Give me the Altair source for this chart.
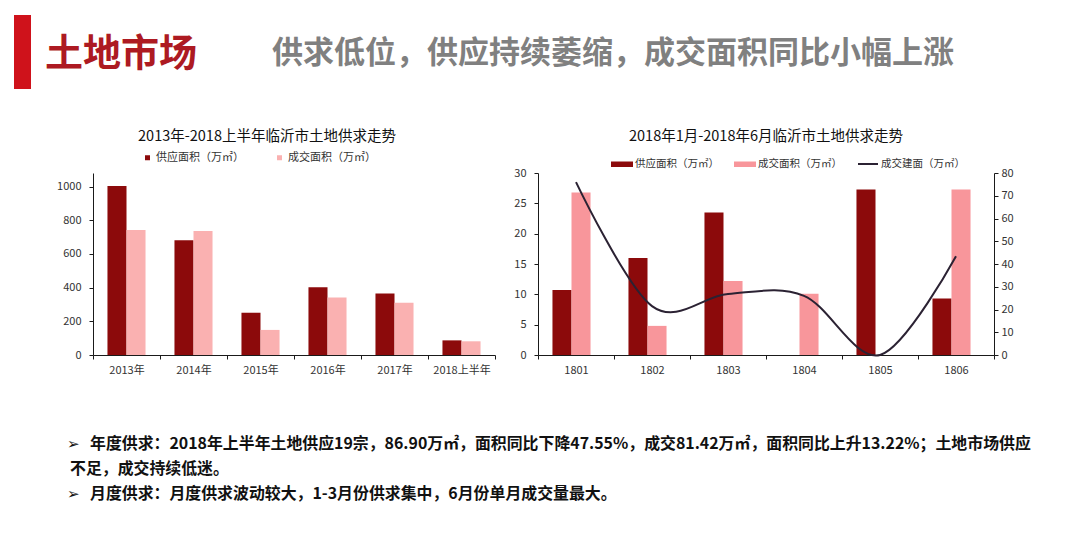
import altair as alt
import pandas as pd

FONT = "Noto Sans CJK SC"
DARK = "#8C0A0B"
LIGHT_L = "#FAB1B1"
LIGHT_R = "#F8969B"
LINE = "#2B2233"
RED = "#CF121B"
AXIS_C = "#1a1a1a"

# ---------------- data ----------------
years = ["2013年", "2014年", "2015年", "2016年", "2017年", "2018上半年"]
supply_year = [1004, 681, 251, 402, 366, 86.90]
deal_year = [743, 737, 149, 341, 311, 81.42]
series_left = ["供应面积（万㎡）", "成交面积（万㎡）"]

months = ["1801", "1802", "1803", "1804", "1805", "1806"]
supply_month = [10.7, 16.0, 23.5, 0, 27.3, 9.3]
deal_month = [26.8, 4.8, 12.2, 10.1, 0, 27.3]
build_month = [76, 21.5, 26.8, 26, 0, 43.4]
series_right = ["供应面积（万㎡）", "成交面积（万㎡）"]
line_name = "成交建面（万㎡）"

left_ticks = [0, 200, 400, 600, 800, 1000]
right_ticks_l = [0, 5, 10, 15, 20, 25, 30]
right_ticks_r = [0, 10, 20, 30, 40, 50, 60, 70, 80]

header_title = "土地市场"
header_sub = "供求低位，供应持续萎缩，成交面积同比小幅上涨"
left_title = "2013年-2018上半年临沂市土地供求走势"
right_title = "2018年1月-2018年6月临沂市土地供求走势"
note1a = "年度供求：2018年上半年土地供应19宗，86.90万㎡，面积同比下降47.55%，成交81.42万㎡，面积同比上升13.22%；土地市场供应"
note1b = "不足，成交持续低迷。"
note2 = "月度供求：月度供求波动较大，1-3月份供求集中，6月份单月成交量最大。"
arrow = "➢"

# ---------------- tables ----------------
df_left = pd.DataFrame({
    "年份": years * 2,
    "类别": [series_left[0]] * len(years) + [series_left[1]] * len(years),
    "面积": supply_year + deal_year,
})
df_right = pd.DataFrame({
    "月份": months * 2,
    "指标": [series_right[0]] * len(months) + [series_right[1]] * len(months),
    "面积": supply_month + deal_month,
})
df_line = pd.DataFrame({"月份": months, "建面": build_month, "线": [line_name] * len(months)})
df_one = pd.DataFrame({"k": [0]})

NOVIEW = alt.ViewBackground(stroke="transparent", fill="transparent")

# ---------------- header (view origin = left plot's left edge) ----------------
hb = alt.Chart(df_one)
head_bar = hb.mark_rect(color=RED).encode(
    x=alt.value(-79), x2=alt.value(-62), y=alt.value(7), y2=alt.value(81))
head_t1 = hb.mark_text(font=FONT, fontSize=38, fontWeight="bold", color="#AD1A22",
                       align="left", baseline="middle").encode(
    x=alt.value(-48), y=alt.value(47), text=alt.value(header_title))
head_t2 = hb.mark_text(font=FONT, fontSize=31, fontWeight="bold", color="#808080",
                       align="left", baseline="middle").encode(
    x=alt.value(179), y=alt.value(46), text=alt.value(header_sub))
header = alt.layer(head_bar, head_t1, head_t2).properties(width=960, height=121, view=NOVIEW)

# ---------------- axes helper ----------------
def ax(**kw):
    base = dict(labelFont=FONT, labelFontSize=11, labelColor="#333", domainColor=AXIS_C,
                tickColor=AXIS_C, tickSize=4, grid=False, title=None)
    base.update(kw)
    return alt.Axis(**base)

# ---------------- left chart ----------------
left = alt.Chart(df_left).mark_bar().encode(
    x=alt.X("年份:N", sort=years, scale=alt.Scale(paddingInner=0, paddingOuter=0),
            axis=ax(labelAngle=0, tickBand="extent", labelPadding=5)),
    xOffset=alt.XOffset("类别:N", sort=series_left,
                        scale=alt.Scale(paddingInner=0, paddingOuter=0.76)),
    y=alt.Y("面积:Q", scale=alt.Scale(domain=[0, 1081], nice=False),
            axis=ax(values=left_ticks, format="d", labelPadding=8, minExtent=85)),
    color=alt.Color("类别:N", sort=series_left,
                    scale=alt.Scale(domain=series_left, range=[DARK, LIGHT_L]),
                    legend=alt.Legend(orient="none", legendX=49, legendY=-21, direction="horizontal",
                                      title=None, symbolType="square", symbolSize=25,
                                      symbolStrokeWidth=0, labelFont=FONT, labelFontSize=11,
                                      labelColor="#333", labelOffset=3, columnPadding=30, padding=0)),
).properties(width=402, height=182,
             title=alt.TitleParams(text=left_title, font=FONT, fontSize=14.5, fontWeight="normal",
                                   color="#111", anchor="middle", frame="group", dx=-27,
                                   offset=-6.5, baseline="bottom"))

# ---------------- right chart ----------------
x_axis_r = ax(labelAngle=0, tickBand="extent", labelPadding=5)
rect_sym = "M-1,-0.25L1,-0.25L1,0.25L-1,0.25Z"

bars_r = alt.Chart(df_right).mark_bar().encode(
    x=alt.X("月份:N", sort=months, scale=alt.Scale(paddingInner=0, paddingOuter=0), axis=x_axis_r),
    xOffset=alt.XOffset("指标:N", sort=series_right,
                        scale=alt.Scale(paddingInner=0, paddingOuter=0.727)),
    y=alt.Y("面积:Q", scale=alt.Scale(domain=[0, 30], nice=False),
            axis=ax(values=right_ticks_l, format="d", labelPadding=8, minExtent=30)),
    color=alt.Color("指标:N", sort=series_right,
                    scale=alt.Scale(domain=series_right, range=[DARK, LIGHT_R]),
                    legend=alt.Legend(orient="none", legendX=73, legendY=-20, direction="horizontal",
                                      title=None, symbolType=rect_sym, symbolSize=484,
                                      symbolStrokeWidth=0, labelFont=FONT, labelFontSize=10.5,
                                      labelColor="#333", labelOffset=2, columnPadding=15, padding=0)),
)
line_r = alt.Chart(df_line).mark_line(interpolate="cardinal", tension=0, strokeWidth=2).encode(
    x=alt.X("月份:N", sort=months, axis=x_axis_r),
    y=alt.Y("建面:Q", scale=alt.Scale(domain=[0, 80], nice=False),
            axis=ax(orient="right", values=right_ticks_r, format="d", labelPadding=3)),
    stroke=alt.Stroke("线:N", scale=alt.Scale(domain=[line_name], range=[LINE]),
                      legend=alt.Legend(orient="none", legendX=319, legendY=-20, title=None,
                                        symbolType="stroke", symbolSize=400, symbolStrokeWidth=2,
                                        labelFont=FONT, labelFontSize=10.5, labelColor="#333",
                                        labelOffset=2, padding=0)),
)
right = alt.layer(bars_r, line_r).resolve_scale(y="independent").properties(
    width=456, height=182,
    title=alt.TitleParams(text=right_title, font=FONT, fontSize=14.5, fontWeight="normal",
                          color="#111", anchor="middle", frame="group", offset=-5.5,
                          baseline="bottom"))

middle = alt.hconcat(left, right, spacing=12).resolve_scale(color="independent", stroke="independent")

# ---------------- footer ----------------
fb = alt.Chart(df_one)
def ftext(txt, x, y, size=16, font=FONT):
    return fb.mark_text(font=font, fontSize=size, fontWeight="bold", color="#111",
                        align="left", baseline="middle").encode(
        x=alt.value(x), y=alt.value(y), text=alt.value(txt))

footer = alt.layer(
    ftext(arrow, -26, 69, 15, "DejaVu Sans"),
    ftext(note1a, -3, 69, 15.9),
    ftext(note1b, -23, 94, 15.9),
    ftext(arrow, -26, 119, 15, "DejaVu Sans"),
    ftext(note2, -3, 119, 15.9),
).properties(width=960, height=140, view=NOVIEW)

chart = alt.vconcat(header, middle, footer, spacing=0).resolve_scale(
    color="independent", stroke="independent").properties(padding=0).configure(
    background="white", font=FONT).configure_view(stroke=None, strokeWidth=0)

chart.save("out.html", embed_options={"renderer": "svg", "actions": False})
